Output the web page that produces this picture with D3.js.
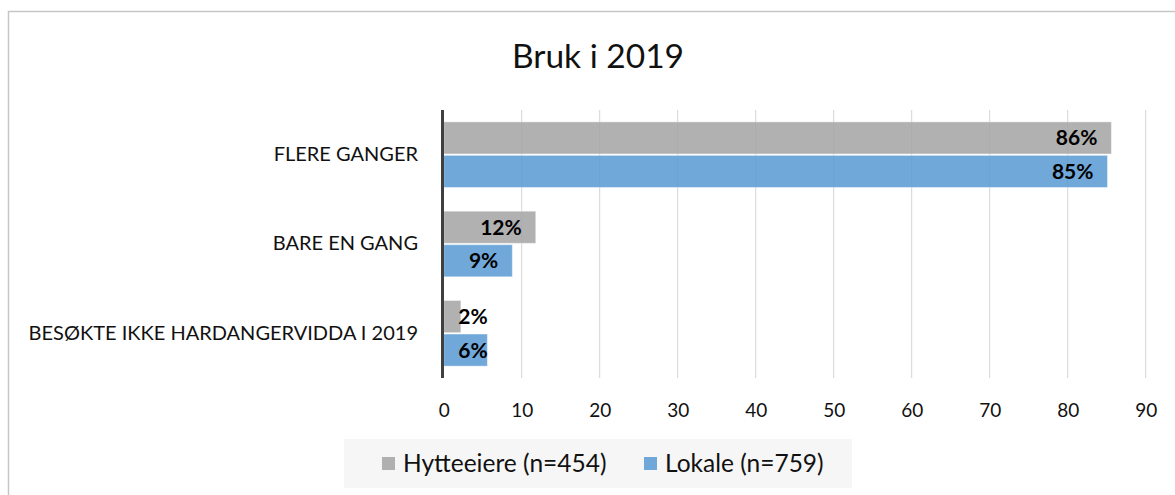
<!DOCTYPE html>
<html><head><meta charset="utf-8">
<script src="https://cdn.jsdelivr.net/npm/d3@7"></script>
<style>
html,body{margin:0;padding:0;background:#fff;}
svg{display:block;font-family:Lato,"Open Sans",sans-serif;}
</style></head>
<body>
<svg id="chart" width="1175" height="495"></svg>
<script>
const title = "Bruk i 2019";
const categories = ["FLERE GANGER", "BARE EN GANG", "BESØKTE IKKE HARDANGERVIDDA I 2019"];
const seriesNames = ["Hytteeiere (n=454)", "Lokale (n=759)"];
const hytteeiere = [85.6, 11.8, 2.2];
const lokale = [85.1, 8.8, 5.6];
const xTicks = [0, 10, 20, 30, 40, 50, 60, 70, 80, 90];

const colors = ["#a5a5a5", "#5b9bd5"];
const FONT = "Lato, 'Open Sans', sans-serif";
const svg = d3.select("#chart");

// frame
svg.append("rect").attr("x", 8.5).attr("y", 11.5).attr("width", 1180).attr("height", 500)
  .attr("fill", "#fff").attr("stroke", "#c6c6c6").attr("stroke-width", 1.5);

const x = d3.scaleLinear().domain([0, 90]).range([443.7, 1145.7]);
const y0 = d3.scaleBand().domain(categories).range([110, 378]).paddingInner(0.25).paddingOuter(0.125);
const y1 = d3.scaleBand().domain(seriesNames).range([0, y0.bandwidth()]);

// title
svg.append("text").attr("x", 598).attr("y", 68).attr("text-anchor", "middle")
  .attr("font-size", 33.5).attr("fill", "#111").text(title);

// gridlines
svg.append("g").selectAll("line").data(xTicks.filter(d => d > 0)).join("line")
  .attr("x1", d => x(d)).attr("x2", d => x(d)).attr("y1", 110).attr("y2", 378)
  .attr("stroke", "#d4d4d4").attr("stroke-width", 1);

// x axis tick labels
const xAxis = d3.axisBottom(x).tickValues(xTicks).tickSize(0).tickPadding(0);
const gx = svg.append("g").attr("transform", "translate(0,410)").call(xAxis);
gx.select(".domain").remove();
gx.selectAll("text").attr("font-size", 19).attr("font-family", FONT).attr("fill", "#111").attr("dy", "0.36em");

// bars
const data = categories.map((c, i) => ({cat: c, vals: [hytteeiere[i], lokale[i]]}));
const groups = svg.append("g").selectAll("g").data(data).join("g")
  .attr("transform", d => `translate(0,${y0(d.cat)})`);
groups.selectAll("rect").data(d => d.vals.map((v, j) => ({v, j}))).join("rect")
  .attr("x", x(0)).attr("y", d => y1(seriesNames[d.j]) + 0.7)
  .attr("width", d => x(d.v) - x(0)).attr("height", y1.bandwidth() - 1.4)
  .attr("fill", d => colors[d.j]).attr("fill-opacity", 0.87)
  .attr("stroke", "#fff").attr("stroke-opacity", 0.4).attr("stroke-width", 1);

// data labels
groups.selectAll("text.lbl").data(d => d.vals.map((v, j) => ({v, j}))).join("text")
  .attr("class", "lbl")
  .attr("x", d => Math.max(x(d.v) - 14, x(0) + 44))
  .attr("y", d => y1(seriesNames[d.j]) + y1.bandwidth() / 2)
  .attr("dy", "0.36em").attr("text-anchor", "end")
  .attr("font-size", 21).attr("font-weight", "bold").attr("fill", "#000")
  .text(d => Math.round(d.v) + "%");

// y axis line
svg.append("line").attr("x1", 442.5).attr("x2", 442.5).attr("y1", 110).attr("y2", 378)
  .attr("stroke", "#404040").attr("stroke-width", 3);

// category labels
const yAxis = d3.axisLeft(y0).tickSize(0).tickPadding(24);
const gy = svg.append("g").attr("transform", `translate(${442},0)`).call(yAxis);
gy.select(".domain").remove();
gy.selectAll("text").attr("font-size", 20).attr("font-family", FONT).attr("fill", "#111");

// legend
svg.append("rect").attr("x", 344).attr("y", 439).attr("width", 508).attr("height", 49).attr("fill", "#f6f6f6");
const legX = [382, 644];
const leg = svg.append("g").selectAll("g").data(seriesNames).join("g")
  .attr("transform", (d, i) => `translate(${legX[i]},457)`);
leg.append("rect").attr("width", 13).attr("height", 13).attr("fill", (d, i) => colors[i]).attr("fill-opacity", 0.87);
leg.append("text").attr("x", 21).attr("y", 6.5).attr("dy", "0.36em").attr("font-size", 24.5).attr("fill", "#111").text(d => d);
</script>
</body></html>
